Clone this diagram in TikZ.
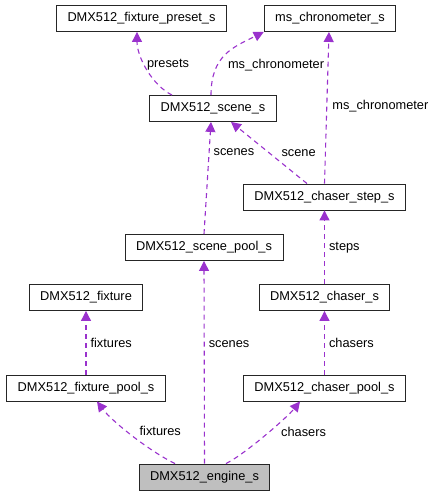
\documentclass[tikz,border=0pt]{standalone}
\usepackage{fontspec}
\setmainfont{Liberation Sans}
\usetikzlibrary{arrows.meta}
\definecolor{edgepurple}{HTML}{9A32CD}
\definecolor{enginegray}{HTML}{BFBFBF}

\begin{document}
\begin{tikzpicture}[x=1pt, y=-1pt,
    box/.style={rectangle, draw=black!85, line width=0.9pt, fill=white, minimum height=26pt, inner xsep=11pt, inner ysep=0pt, font=\fontsize{12.8}{15}\selectfont},
    edge/.style={-{Triangle[length=10pt, width=10pt]}, draw=edgepurple, line width=1.1pt, dash pattern=on 5pt off 4pt},
    lbl/.style={font=\fontsize{12.8}{15}\selectfont, inner sep=0pt, text=black},
]
\useasboundingbox (0,0) rectangle (434,496);

% Structures
\node[box] (preset) at (141.5,18.5) {DMX512\_fixture\_preset\_s};
\node[box] (chron) at (330,18.5) {ms\_chronometer\_s};
\node[box] (scene) at (213,108.5) {DMX512\_scene\_s};
\node[box] (step) at (324.5,197) {DMX512\_chaser\_step\_s};
\node[box] (spool) at (204,247.5) {DMX512\_scene\_pool\_s};
\node[box] (fixture) at (86,297.5) {DMX512\_fixture};
\node[box] (chaser) at (324.5,297.5) {DMX512\_chaser\_s};
\node[box] (fpool) at (86,388) {DMX512\_fixture\_pool\_s};
\node[box] (cpool) at (324.5,388) {DMX512\_chaser\_pool\_s};
\node[box, fill=enginegray] (engine) at (204.5,477) {DMX512\_engine\_s};

% Members of the engine
\draw[edge] ([xshift=-29.5pt]engine.north) .. controls +(-25,-12) and +(15,20) .. node[lbl, right=12pt, pos=0.56] {fixtures} ([xshift=11pt]fpool.south);
\draw[edge] (engine.north) -- node[lbl, right=4pt, pos=0.59] {scenes} (spool.south);
\draw[edge] ([xshift=21.5pt]engine.north) .. controls +(20,-10) and +(-12,15) .. node[lbl, right=12pt, pos=0.53] {chasers} ([xshift=-24.5pt]cpool.south);

% Pools
\draw[edge] (fpool.north) -- node[lbl, right=4pt] {fixtures} (fixture.south);
\draw[edge] (cpool.north) -- node[lbl, right=4pt] {chasers} (chaser.south);
\draw[edge] (spool.north) -- node[lbl, right=4pt, pos=0.73] {scenes} ([xshift=-2pt]scene.south);

% Chaser and steps
\draw[edge] (chaser.north) -- node[lbl, right=4pt] {steps} (step.south);
\draw[edge] ([xshift=-17.5pt]step.north) -- node[lbl, right=12pt, pos=0.5] {scene} ([xshift=18pt]scene.south);
\draw[edge] (step.north) -- node[lbl, right=5pt, pos=0.51] {ms\_chronometer} ([xshift=-1pt]chron.south);

% Scene members
\draw[edge] ([xshift=-41pt]scene.north) .. controls +(-20,-10) and +(0,25) .. node[lbl, right=2pt, pos=0.57] {presets} ([xshift=-4.5pt]preset.south);
\draw[edge] ([xshift=-2pt]scene.north) .. controls +(0,-40) and +(-30,15) .. node[lbl, right=10pt, pos=0.32] {ms\_chronometer} (chron.south west);

\end{tikzpicture}
\end{document}
